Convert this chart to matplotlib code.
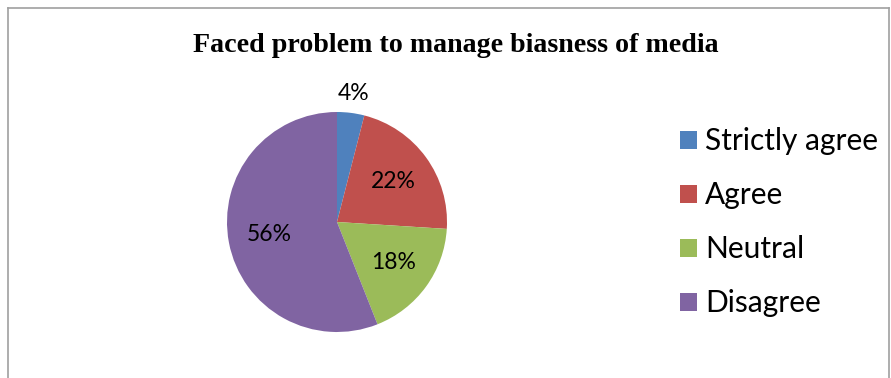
import matplotlib
matplotlib.use('Agg')
import matplotlib.pyplot as plt
from matplotlib.patches import Rectangle
from matplotlib.lines import Line2D
import numpy as np

categories = ['Strictly agree', 'Agree', 'Neutral', 'Disagree']
shares = [4, 22, 18, 56]
colors = ['#4F81BD', '#C0504D', '#9BBB59', '#8064A2']

W, H = 891, 378
fig = plt.figure(figsize=(W / 100, H / 100), dpi=100)

# thin grey frame around the chart area (bottom edge runs off the image)
frame = dict(color='#A0A0A0', lw=1.2, transform=fig.transFigure)
fig.add_artist(Line2D([7.5 / W, 7.5 / W], [0, 1 - 7.5 / H], **frame))
fig.add_artist(Line2D([7.5 / W, 888.5 / W], [1 - 7.5 / H, 1 - 7.5 / H], **frame))
fig.add_artist(Line2D([888.5 / W, 888.5 / W], [0, 1 - 7.5 / H], **frame))

fig.text(456 / W, 1 - 46 / H, 'Faced problem to manage biasness of media',
         ha='center', va='center', fontsize=20.2, fontweight='bold',
         family='Liberation Serif')

cx, cy, r = 337, 222, 110
ax = fig.add_axes([(cx - r) / W, 1 - (cy + r) / H, 2 * r / W, 2 * r / H])
wedges, _ = ax.pie(shares, colors=colors, startangle=90, counterclock=False,
                   radius=1)
ax.set_xlim(-1, 1)
ax.set_ylim(-1, 1)
ax.axis('off')

for w, val in zip(wedges, shares):
    mid = np.deg2rad((w.theta1 + w.theta2) / 2)
    d = 1.18 if val < 10 else 0.63
    ax.text(d * np.cos(mid), d * np.sin(mid), f'{val}%', ha='center',
            va='center', fontsize=16.5, family='Lato', clip_on=False)

# legend: colour squares with labels, one row every 54 px
for i, (name, c) in enumerate(zip(categories, colors)):
    yc = 140 + 54 * i
    fig.add_artist(Rectangle((680 / W, 1 - (yc + 9) / H), 17 / W, 18 / H,
                             facecolor=c, edgecolor='none',
                             transform=fig.transFigure))
    fig.text(705 / W, 1 - (yc + 1) / H, name, ha='left', va='center',
             fontsize=21.5, family='Lato')

fig.savefig('out.png', dpi=100)
